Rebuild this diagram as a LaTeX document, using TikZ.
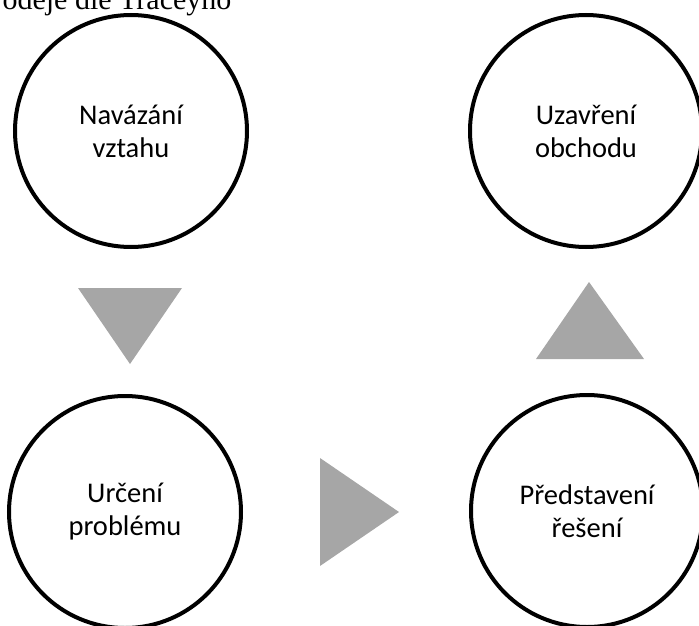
\documentclass[tikz,border=0pt]{standalone}
\usepackage{fontspec}
\setmainfont{Liberation Serif}
\newfontfamily\kalibri{Carlito}
\definecolor{sed}{HTML}{A6A6A6}
\begin{document}
\begin{tikzpicture}[x=1pt,y=-1pt,
		krok/.style={circle,draw,line width=4pt,minimum size=232pt,inner sep=0pt,align=center,font=\kalibri\fontsize{28.5}{33}\selectfont},
		sipka/.style={fill=sed}]
	\useasboundingbox (0,0) rectangle (699,626);
	\node[anchor=base west,font=\fontsize{30}{34}\selectfont] (titulek) at (-1,10) {odeje dle Traceyho};
	\node[krok] (navazani) at (131,131) {Navázání\\vztahu};
	\node[krok] (urceni) at (125,512) {Určení\\problému};
	\node[krok] (predstaveni) at (587,511) {Představení\\řešení};
	\node[krok] (uzavreni) at (586,131) {Uzavření\\obchodu};
	% sipky mezi kroky
	\fill[sipka] (78,288)--(182,288)--(130,364)--cycle;
	\fill[sipka] (320,458)--(399,512)--(320,566)--cycle;
	\fill[sipka] (536,359)--(644,359)--(589,282)--cycle;
\end{tikzpicture}
\end{document}
